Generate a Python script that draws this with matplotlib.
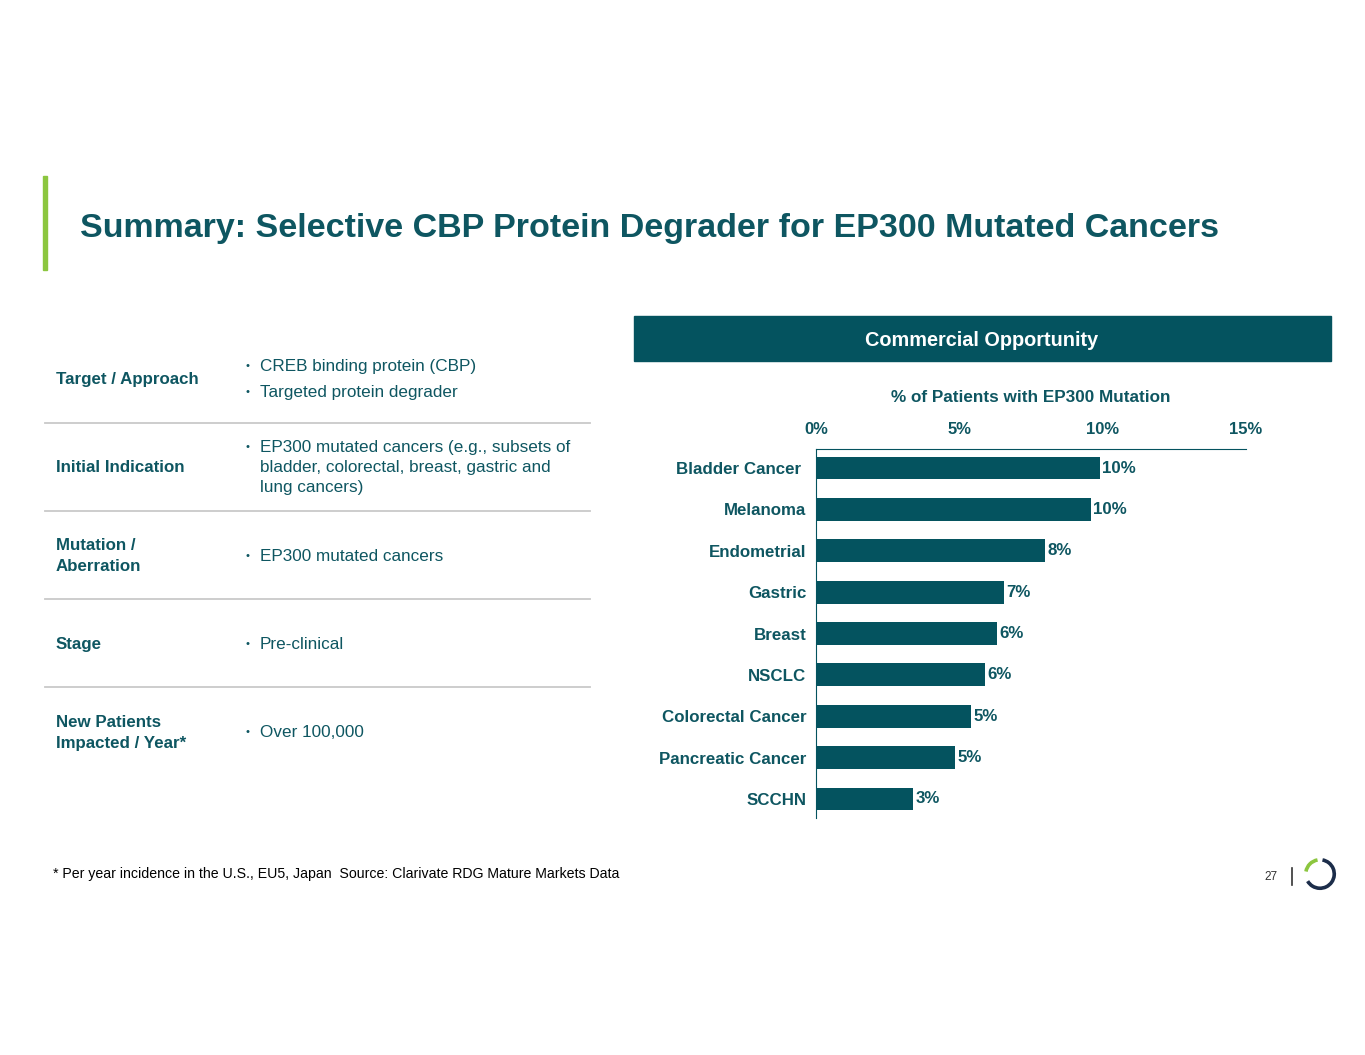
import matplotlib
matplotlib.use("Agg")
import matplotlib.pyplot as plt
import matplotlib.patches as mpatches
from matplotlib.ticker import FuncFormatter

plt.rcParams['font.family'] = ['Liberation Sans', 'DejaVu Sans']

TEAL = '#04535f'
TEXT = '#0e5661'
GREEN = '#8cc63f'
NAVY = '#1c2d4a'
GRID = '#c9c9c9'

# data
cancers = ['Bladder Cancer ', 'Melanoma', 'Endometrial', 'Gastric', 'Breast',
           'NSCLC', 'Colorectal Cancer', 'Pancreatic Cancer', 'SCCHN']
pct = [9.9, 9.6, 8.0, 6.55, 6.3, 5.9, 5.4, 4.85, 3.4]
xticks = [0, 5, 10, 15]

row_labels = ['Target / Approach', 'Initial Indication', 'Mutation /\nAberration',
              'Stage', 'New Patients\nImpacted / Year*']
row_items = [
    ['CREB binding protein (CBP)', 'Targeted protein degrader'],
    ['EP300 mutated cancers (e.g., subsets of\nbladder, colorectal, breast, gastric and\nlung cancers)'],
    ['EP300 mutated cancers'],
    ['Pre-clinical'],
    ['Over 100,000'],
]

W, H = 1365, 1055
fig = plt.figure(figsize=(W / 100, H / 100), dpi=100)


def fx(px):
    return px / W


def fy(py):
    return 1 - py / H


# title + accent bar
fig.patches.append(mpatches.Rectangle((fx(43), fy(270)), 4 / W, 94 / H,
                                      transform=fig.transFigure, color=GREEN))
fig.text(fx(80), fy(228), 'Summary: Selective CBP Protein Degrader for EP300 Mutated Cancers',
         fontsize=24.5, fontweight='bold', color=TEXT, va='center', ha='left')

# left table
row_y = [380, 468, 556, 645, 733]
bullet_y = [[366, 392], [447], [556], [644], [732]]
for lab, items, ry, bys in zip(row_labels, row_items, row_y, bullet_y):
    fig.text(fx(56), fy(ry), lab, fontsize=12.2, fontweight='bold', color=TEXT,
             va='center', ha='left', linespacing=1.45)
    for it, by in zip(items, bys):
        fig.text(fx(245), fy(by), '•', fontsize=8, color=TEXT, va='center', ha='left')
        fig.text(fx(260), fy(by - 7), it, fontsize=12.3, color=TEXT,
                 va='top', ha='left', linespacing=1.4)
for ly in [423, 511, 599, 687]:
    fig.add_artist(plt.Line2D([fx(45), fx(590)], [fy(ly), fy(ly)],
                              color=GRID, lw=1.3, transform=fig.transFigure))

# header box
fig.patches.append(mpatches.Rectangle((fx(634), fy(361)), 697 / W, 45 / H,
                                      transform=fig.transFigure, color=TEAL))
fig.text(fx(982), fy(340), 'Commercial Opportunity', fontsize=14.3, fontweight='bold',
         color='white', ha='center', va='center')

# bar chart
ax = fig.add_axes([fx(816), fy(818), (1246 - 816) / W, (818 - 449) / H])
y = list(range(len(cancers)))
ax.barh(y, pct, height=0.55, color=TEAL)
for yi, v in zip(y, pct):
    ax.text(v + 0.08, yi, f'{v:.0f}%', va='center', ha='left', fontsize=12.2,
            fontweight='bold', color=TEXT)
ax.set_xlim(0, 15)
ax.set_ylim(len(cancers) - 0.54, -0.46)
ax.set_yticks(y)
ax.set_yticklabels(cancers)
ax.set_xticks(xticks)
ax.xaxis.set_major_formatter(FuncFormatter(lambda v, p: f'{v:.0f}%'))
ax.xaxis.tick_top()
ax.xaxis.set_label_position('top')
ax.set_xlabel('% of Patients with EP300 Mutation', fontsize=12.3, fontweight='bold',
              color=TEXT, labelpad=14)
ax.tick_params(axis='x', length=0, pad=9, labelsize=12, labelcolor=TEXT)
ax.tick_params(axis='y', length=0, pad=7, labelsize=12.2, labelcolor=TEXT)
for lbl in ax.get_xticklabels() + ax.get_yticklabels():
    lbl.set_fontweight('bold')
for s in ['right', 'bottom']:
    ax.spines[s].set_visible(False)
for s in ['top', 'left']:
    ax.spines[s].set_color(TEAL)
    ax.spines[s].set_linewidth(0.8)
ax.set_facecolor('none')

# footer
fig.text(fx(53), fy(874), '* Per year incidence in the U.S., EU5, Japan  Source: Clarivate RDG Mature Markets Data',
         fontsize=10.2, color='black', va='center', ha='left')
fig.text(fx(1278), fy(877), '27', fontsize=8.5, color='#333333', va='center', ha='right')
fig.add_artist(plt.Line2D([fx(1292), fx(1292)], [fy(868), fy(885)], color='#333333',
                          lw=1.2, transform=fig.transFigure))
lax = fig.add_axes([fx(1301), fy(893), 38 / W, 38 / H])
lax.set_xlim(-1, 1)
lax.set_ylim(-1, 1)
lax.set_aspect('equal')
lax.axis('off')
lax.add_patch(mpatches.Arc((0, 0), 1.5, 1.5, theta1=-150, theta2=80, color=NAVY, lw=2.6))
lax.add_patch(mpatches.Arc((0, 0), 1.5, 1.5, theta1=100, theta2=170, color=GREEN, lw=2.6))

fig.savefig('out.png', dpi=100)
